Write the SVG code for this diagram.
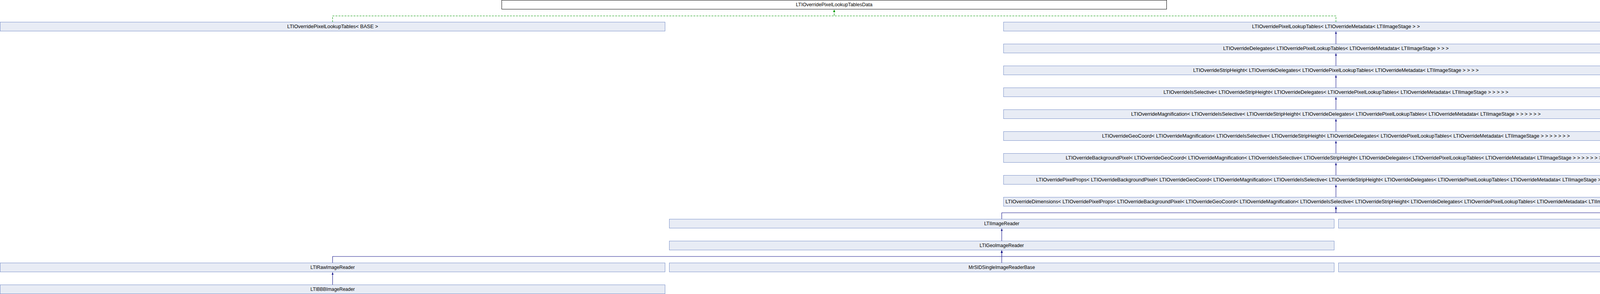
<svg xmlns="http://www.w3.org/2000/svg" width="5129" height="752" viewBox="0 0 5129 752">
<style>
.n rect{fill:#E8ECF5;stroke:#7A91C9;stroke-width:1}
.n.plain rect{fill:#FFFFFF;stroke:#000000}
.n text{font-family:"Liberation Sans",Arial,Helvetica,sans-serif;font-size:12px;fill:#000000;text-anchor:middle}
.e{fill:none;stroke:#14148A;stroke-width:1.1;marker-end:url(#ab)}
.t{fill:none;stroke:#009400;stroke-width:1.1;stroke-dasharray:5,2.7;marker-end:url(#ag)}
</style>
<defs>
<marker id="ab" viewBox="0 -2.5 6 5" refX="6" refY="0" markerWidth="6" markerHeight="5" markerUnits="userSpaceOnUse" orient="auto"><path d="M0,-2.5L6,0L0,2.5z" fill="#14148A"/></marker>
<marker id="ag" viewBox="0 -2.5 6 5" refX="6" refY="0" markerWidth="6" markerHeight="5" markerUnits="userSpaceOnUse" orient="auto"><path d="M0,-2.5L6,0L0,2.5z" fill="#009400"/></marker>
</defs>
<rect width="5129" height="752" fill="#FFFFFF"/>
<g id="connectors">
<path class="t" d="M851.5,56.5V40.7H2135.5V24.5"/>
<path class="t" d="M3420,56.5V40.7H2135.5V24.5"/>
<path class="e" d="M3420,112.5V80.5"/>
<path class="e" d="M3420,168.5V136.5"/>
<path class="e" d="M3420,224.5V192.5"/>
<path class="e" d="M3420,280.5V248.5"/>
<path class="e" d="M3420,336.5V304.5"/>
<path class="e" d="M3420,392.5V360.5"/>
<path class="e" d="M3420,448.5V416.5"/>
<path class="e" d="M3420,504.5V472.5"/>
<path class="e" d="M2564.5,560.5V544.2H3420V528.5"/>
<path class="e" d="M4277.5,560.5V544.2H3420V528.5"/>
<path class="e" d="M2564.5,616.5V584.5"/>
<path class="e" d="M851.5,672.5V656H2564.5V640.5"/>
<path class="e" d="M2564.5,672.5V640.5"/>
<path class="e" d="M4277.5,672.5V656H2564.5V640.5"/>
<path class="e" d="M851.5,728.5V696.5"/>
</g>
<g id="node_data" class="n plain"><rect x="1284.5" y="0.5" width="1702" height="23"/><text x="2135.5" y="15.5" textLength="196" lengthAdjust="spacingAndGlyphs">LTIOverridePixelLookupTablesData</text></g>
<g id="node_base" class="n"><rect x="0.5" y="56.5" width="1702" height="23"/><text x="851.5" y="71.5" textLength="232.6" lengthAdjust="spacingAndGlyphs">LTIOverridePixelLookupTables&lt; BASE &gt;</text></g>
<g id="node_meta" class="n"><rect x="2569" y="56.5" width="1702" height="23"/><text x="3420" y="71.5" textLength="429.6" lengthAdjust="spacingAndGlyphs">LTIOverridePixelLookupTables&lt; LTIOverrideMetadata&lt; LTIImageStage &gt; &gt;</text></g>
<g id="node_delegates" class="n"><rect x="2569" y="112.5" width="1702" height="23"/><text x="3420" y="127.5" textLength="577.4" lengthAdjust="spacingAndGlyphs">LTIOverrideDelegates&lt; LTIOverridePixelLookupTables&lt; LTIOverrideMetadata&lt; LTIImageStage &gt; &gt; &gt;</text></g>
<g id="node_stripheight" class="n"><rect x="2569" y="168.5" width="1702" height="23"/><text x="3420" y="183.5" textLength="730.8" lengthAdjust="spacingAndGlyphs">LTIOverrideStripHeight&lt; LTIOverrideDelegates&lt; LTIOverridePixelLookupTables&lt; LTIOverrideMetadata&lt; LTIImageStage &gt; &gt; &gt; &gt;</text></g>
<g id="node_isselective" class="n"><rect x="2569" y="224.5" width="1702" height="23"/><text x="3420" y="239.5" textLength="882.8" lengthAdjust="spacingAndGlyphs">LTIOverrideIsSelective&lt; LTIOverrideStripHeight&lt; LTIOverrideDelegates&lt; LTIOverridePixelLookupTables&lt; LTIOverrideMetadata&lt; LTIImageStage &gt; &gt; &gt; &gt; &gt;</text></g>
<g id="node_magnification" class="n"><rect x="2569" y="280.5" width="1702" height="23"/><text x="3420" y="295.5" textLength="1048.3" lengthAdjust="spacingAndGlyphs">LTIOverrideMagnification&lt; LTIOverrideIsSelective&lt; LTIOverrideStripHeight&lt; LTIOverrideDelegates&lt; LTIOverridePixelLookupTables&lt; LTIOverrideMetadata&lt; LTIImageStage &gt; &gt; &gt; &gt; &gt; &gt;</text></g>
<g id="node_geocoord" class="n"><rect x="2569" y="336.5" width="1702" height="23"/><text x="3420" y="351.5" textLength="1197.5" lengthAdjust="spacingAndGlyphs">LTIOverrideGeoCoord&lt; LTIOverrideMagnification&lt; LTIOverrideIsSelective&lt; LTIOverrideStripHeight&lt; LTIOverrideDelegates&lt; LTIOverridePixelLookupTables&lt; LTIOverrideMetadata&lt; LTIImageStage &gt; &gt; &gt; &gt; &gt; &gt; &gt;</text></g>
<g id="node_backgroundpixel" class="n"><rect x="2569" y="392.5" width="1702" height="23"/><text x="3420" y="407.5" textLength="1383.7" lengthAdjust="spacingAndGlyphs">LTIOverrideBackgroundPixel&lt; LTIOverrideGeoCoord&lt; LTIOverrideMagnification&lt; LTIOverrideIsSelective&lt; LTIOverrideStripHeight&lt; LTIOverrideDelegates&lt; LTIOverridePixelLookupTables&lt; LTIOverrideMetadata&lt; LTIImageStage &gt; &gt; &gt; &gt; &gt; &gt; &gt; &gt;</text></g>
<g id="node_pixelprops" class="n"><rect x="2569" y="448.5" width="1702" height="23"/><text x="3420" y="463.5" textLength="1535" lengthAdjust="spacingAndGlyphs">LTIOverridePixelProps&lt; LTIOverrideBackgroundPixel&lt; LTIOverrideGeoCoord&lt; LTIOverrideMagnification&lt; LTIOverrideIsSelective&lt; LTIOverrideStripHeight&lt; LTIOverrideDelegates&lt; LTIOverridePixelLookupTables&lt; LTIOverrideMetadata&lt; LTIImageStage &gt; &gt; &gt; &gt; &gt; &gt; &gt; &gt; &gt;</text></g>
<g id="node_dimensions" class="n"><rect x="2569" y="504.5" width="1702" height="23"/><text x="3420" y="519.5" textLength="1692" lengthAdjust="spacingAndGlyphs">LTIOverrideDimensions&lt; LTIOverridePixelProps&lt; LTIOverrideBackgroundPixel&lt; LTIOverrideGeoCoord&lt; LTIOverrideMagnification&lt; LTIOverrideIsSelective&lt; LTIOverrideStripHeight&lt; LTIOverrideDelegates&lt; LTIOverridePixelLookupTables&lt; LTIOverrideMetadata&lt; LTIImageStage &gt; &gt; &gt; &gt; &gt; &gt; &gt; &gt; &gt; &gt;</text></g>
<g id="node_imagereader" class="n"><rect x="1713.5" y="560.5" width="1702" height="23"/><text x="2564.5" y="575.5" textLength="90" lengthAdjust="spacingAndGlyphs">LTIImageReader</text></g>
<g id="node_mosaicfilter" class="n"><rect x="3426.5" y="560.5" width="1702" height="23"/><text x="4277.5" y="575.5" textLength="86.3" lengthAdjust="spacingAndGlyphs">LTIMosaicFilter</text></g>
<g id="node_geoimagereader" class="n"><rect x="1713.5" y="616.5" width="1702" height="23"/><text x="2564.5" y="631.5" textLength="113.3" lengthAdjust="spacingAndGlyphs">LTIGeoImageReader</text></g>
<g id="node_rawimagereader" class="n"><rect x="0.5" y="672.5" width="1702" height="23"/><text x="851.5" y="687.5" textLength="113.3" lengthAdjust="spacingAndGlyphs">LTIRawImageReader</text></g>
<g id="node_mrsid" class="n"><rect x="1713.5" y="672.5" width="1702" height="23"/><text x="2564.5" y="687.5" textLength="170" lengthAdjust="spacingAndGlyphs">MrSIDSingleImageReaderBase</text></g>
<g id="node_nitf" class="n"><rect x="3426.5" y="672.5" width="1702" height="23"/><text x="4277.5" y="687.5" textLength="97.3" lengthAdjust="spacingAndGlyphs">Nitf::ImageReader</text></g>
<g id="node_bbb" class="n"><rect x="0.5" y="728.5" width="1702" height="23"/><text x="851.5" y="743.5" textLength="113.3" lengthAdjust="spacingAndGlyphs">LTIBBBImageReader</text></g>
</svg>
